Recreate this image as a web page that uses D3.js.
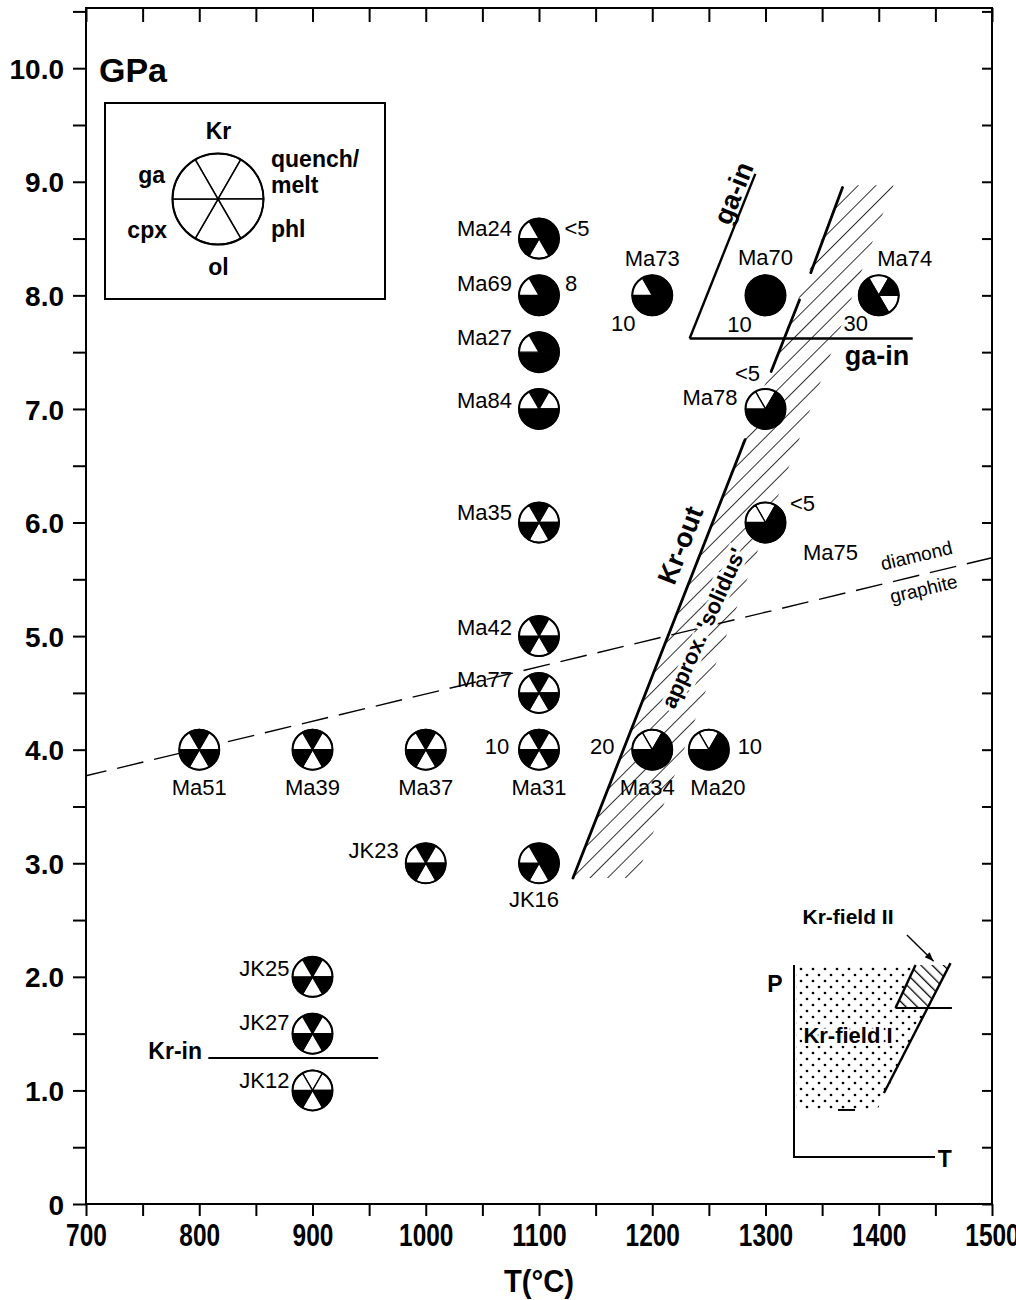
<!DOCTYPE html>
<html>
<head>
<meta charset="utf-8">
<script src="https://cdn.jsdelivr.net/npm/d3@7"></script>
<style>
  body { margin: 0; background: #fff; }
  svg text { font-family: "Liberation Sans", Arial, Helvetica, sans-serif; fill: #000; }
</style>
</head>
<body>
<svg id="chart" width="1016" height="1300"></svg>
<script>
// ---- Experimental runs (T in °C, P in GPa) ----
// Sector order, clockwise from the top: Kr, quench/melt, phl, ol, cpx, ga (1 = phase present)
const phaseNames   = ['Kr', 'quench/melt', 'phl', 'ol', 'cpx', 'ga'];
const samples      = ['Ma24','Ma69','Ma27','Ma84','Ma35','Ma42','Ma77','Ma31','Ma51','Ma39','Ma37','Ma34','Ma20','JK23','JK16','JK25','JK27','JK12','Ma73','Ma70','Ma74','Ma78','Ma75'];
const temperatures = [1100, 1100, 1100, 1100, 1100, 1100, 1100, 1100, 800, 900, 1000, 1200, 1250, 1000, 1100, 900, 900, 900, 1200, 1300, 1400, 1300, 1300];
const pressures    = [8.5, 8.0, 7.5, 7.0, 6.0, 5.0, 4.5, 4.0, 4.0, 4.0, 4.0, 4.0, 4.0, 3.0, 3.0, 2.0, 1.5, 1.0, 8.0, 8.0, 8.0, 7.0, 6.0];
const assemblages  = [
  [1,1,1,0,1,0], // Ma24
  [1,1,1,1,1,0], // Ma69
  [1,1,1,1,1,0], // Ma27
  [1,0,1,1,1,0], // Ma84
  [1,0,1,0,1,0], // Ma35
  [1,0,1,0,1,0], // Ma42
  [1,0,1,0,1,0], // Ma77
  [1,0,1,0,1,0], // Ma31
  [1,0,1,0,1,0], // Ma51
  [1,0,1,0,1,0], // Ma39
  [1,0,1,0,1,0], // Ma37
  [0,1,1,1,1,0], // Ma34
  [0,1,1,1,1,0], // Ma20
  [1,0,1,0,1,0], // JK23
  [1,1,1,0,1,0], // JK16
  [1,0,1,0,1,0], // JK25
  [1,0,1,0,1,0], // JK27
  [0,0,1,0,1,0], // JK12
  [1,1,1,1,1,0], // Ma73
  [1,1,1,1,1,1], // Ma70
  [0,1,0,1,1,1], // Ma74
  [0,1,1,1,1,0], // Ma78
  [0,1,1,1,1,0]  // Ma75
];
const meltPercent  = ['<5','8','','','','','','10','','','','20','10','','','','','','10','10','30','<5','<5'];

// ---- Phase boundaries (T °C, P GPa) ----
const krOutSegments = [
  [[1130, 2.87], [1282, 6.73]],
  [[1305, 7.33], [1330, 7.96]],
  [[1340, 8.20], [1368, 8.95]]
];
const solidusBand   = [[1130, 2.87], [1368, 8.97], [1413, 8.97], [1186, 2.87]];
const gaInSlope     = [[1233, 7.62], [1291, 9.07]];
const gaInFlat      = [[1233, 7.62], [1430, 7.62]];
const krInLine      = [[808, 1.285], [958, 1.285]];
const diamondGraphite = [[700, 3.77], [1500, 5.69]];

// ---- Axis ticks ----
const xTicks = d3.range(700, 1501, 50);
const yTicks = d3.range(0, 10.51, 0.5);

// ---- Label placement around each symbol (pixel offsets) ----
const nameOffset = {
  Ma24:[-27,-10,'end'], Ma69:[-27,-12,'end'], Ma27:[-27,-15,'end'], Ma84:[-27,-9,'end'],
  Ma35:[-27,-10,'end'], Ma42:[-27,-9,'end'], Ma77:[-27,-14,'end'],
  Ma31:[0,37,'middle'], Ma51:[0,37,'middle'], Ma39:[0,37,'middle'], Ma37:[0,37,'middle'],
  Ma34:[-5,37,'middle'], Ma20:[9,37,'middle'], JK16:[-5,36,'middle'],
  JK23:[-27,-13,'end'], JK25:[-23,-9,'end'], JK27:[-23,-12,'end'], JK12:[-23,-10,'end'],
  Ma73:[0,-37,'middle'], Ma70:[0,-38,'middle'], Ma74:[26,-37,'middle'],
  Ma78:[-28,-12,'end'], Ma75:[65,30,'middle']
};
const noteOffset = {
  Ma24:[38,-10], Ma69:[32,-12], Ma31:[-42,-4], Ma34:[-50,-4], Ma20:[41,-4],
  Ma73:[-29,28], Ma70:[-26,29], Ma74:[-23,28], Ma78:[-18,-36], Ma75:[37,-19]
};

const svg = d3.select('#chart');
const x = d3.scaleLinear().domain([700, 1500]).range([86, 992]);
const y = d3.scaleLinear().domain([0, 10.53]).range([1204, 8]);
const [x0, x1] = x.range();
const [yb, yt] = y.range();
const line = d3.line().x(d => x(d[0])).y(d => y(d[1]));
const defs = svg.append('defs');

// hatch for the approximate solidus band
defs.append('pattern').attr('id', 'solidusHatch').attr('patternUnits', 'userSpaceOnUse')
  .attr('width', 12.5).attr('height', 12.5).attr('patternTransform', 'rotate(45)')
  .append('line').attr('x1', 0).attr('y1', 0).attr('x2', 0).attr('y2', 12.5)
  .attr('stroke', '#000').attr('stroke-width', 1.6);

// hatch and stipple for the schematic inset
defs.append('pattern').attr('id', 'fieldIIHatch').attr('patternUnits', 'userSpaceOnUse')
  .attr('width', 8).attr('height', 8).attr('patternTransform', 'rotate(-45)')
  .append('line').attr('x1', 0).attr('y1', 0).attr('x2', 0).attr('y2', 8)
  .attr('stroke', '#000').attr('stroke-width', 2.6);
const dots = defs.append('pattern').attr('id', 'fieldIDots').attr('patternUnits', 'userSpaceOnUse')
  .attr('width', 12).attr('height', 12);
dots.append('circle').attr('cx', 3).attr('cy', 3).attr('r', 1.35).attr('fill', '#000');
dots.append('circle').attr('cx', 9).attr('cy', 9).attr('r', 1.35).attr('fill', '#000');

// ---- Axes and frame ----
function styleAxis(g) {
  g.select('.domain').remove();
  g.selectAll('.tick line').attr('stroke', '#000').attr('stroke-width', 2);
}
// condensed bold numerals along the temperature axis
svg.append('g').attr('transform', `translate(0,${yb})`)
  .call(d3.axisBottom(x).tickValues(xTicks).tickSize(12).tickSizeOuter(0).tickPadding(6)
    .tickFormat(d => d % 100 === 0 ? d : ''))
  .call(styleAxis)
  .selectAll('text').filter(d => d % 100 === 0)
  .attr('font-size', 31).attr('font-weight', 'bold').attr('dy', '0.78em')
  .attr('textLength', d => String(d).length * 13.6).attr('lengthAdjust', 'spacingAndGlyphs');
svg.append('g').attr('transform', `translate(0,${yt})`)
  .call(d3.axisTop(x).tickValues(xTicks).tickSize(-14).tickSizeOuter(0).tickFormat(''))
  .call(styleAxis);
svg.append('g').attr('transform', `translate(${x0},0)`)
  .call(d3.axisLeft(y).tickValues(yTicks).tickSize(13).tickSizeOuter(0).tickPadding(9)
    .tickFormat(d => d % 1 === 0 ? (d === 0 ? '0' : d.toFixed(1)) : ''))
  .call(styleAxis)
  .selectAll('text').attr('font-size', 28).attr('font-weight', 'bold').attr('dy', '0.36em');
svg.append('g').attr('transform', `translate(${x1},0)`)
  .call(d3.axisRight(y).tickValues(yTicks).tickSize(-10).tickSizeOuter(0).tickFormat(''))
  .call(styleAxis);
svg.append('rect').attr('x', x0).attr('y', yt).attr('width', x1 - x0).attr('height', yb - yt)
  .attr('fill', 'none').attr('stroke', '#000').attr('stroke-width', 2);

svg.append('text').attr('x', (x0 + x1) / 2).attr('y', 1292)
  .attr('text-anchor', 'middle').attr('font-size', 31).attr('font-weight', 'bold')
  .attr('textLength', 70).attr('lengthAdjust', 'spacingAndGlyphs').text('T(°C)');
svg.append('text').attr('x', 99).attr('y', 82).attr('font-size', 34).attr('font-weight', 'bold').text('GPa');

// ---- Approximate solidus band ----
const plot = svg.append('g');
plot.append('path').attr('d', line(solidusBand) + 'Z').attr('fill', 'url(#solidusHatch)').attr('stroke', 'none');

// ---- diamond / graphite transition ----
plot.append('path').attr('d', line(diamondGraphite)).attr('fill', 'none')
  .attr('stroke', '#000').attr('stroke-width', 1.4).attr('stroke-dasharray', '27,11')
  .attr('stroke-dashoffset', 6);

// ---- Kr-out, ga-in, Kr-in ----
krOutSegments.forEach(seg => plot.append('path').attr('d', line(seg)).attr('fill', 'none')
  .attr('stroke', '#000').attr('stroke-width', 2.8).attr('stroke-linecap', 'round'));
[gaInSlope, gaInFlat].forEach(seg => plot.append('path').attr('d', line(seg)).attr('fill', 'none')
  .attr('stroke', '#000').attr('stroke-width', 2.4));
plot.append('path').attr('d', line(krInLine)).attr('fill', 'none').attr('stroke', '#000').attr('stroke-width', 2);

function angleOf(seg) {
  const dx = x(seg[1][0]) - x(seg[0][0]);
  const dy = y(seg[1][1]) - y(seg[0][1]);
  return Math.atan2(dy, dx) * 180 / Math.PI;
}
const krOutAngle = angleOf([krOutSegments[0][0], krOutSegments[2][1]]);
const gaAngle = angleOf(gaInSlope);

plot.append('text').attr('transform', `translate(680,545) rotate(${krOutAngle})`)
  .attr('text-anchor', 'middle').attr('dy', '0.36em').attr('font-size', 27).attr('font-weight', 'bold')
  .text('Kr-out');
plot.append('text').attr('transform', `translate(703,628) rotate(${krOutAngle + 3})`)
  .attr('text-anchor', 'middle').attr('dy', '0.36em').attr('font-size', 22).attr('font-weight', 'bold')
  .attr('stroke', '#fff').attr('stroke-width', 7).attr('paint-order', 'stroke')
  .text("approx. 'solidus'");
plot.append('text').attr('transform', `translate(733,193) rotate(${gaAngle})`)
  .attr('text-anchor', 'middle').attr('dy', '0.36em').attr('font-size', 27).attr('font-weight', 'bold')
  .text('ga-in');
plot.append('text').attr('x', 877).attr('y', 355).attr('text-anchor', 'middle').attr('dy', '0.36em')
  .attr('font-size', 27).attr('font-weight', 'bold').text('ga-in');
plot.append('text').attr('x', 202).attr('y', 1051).attr('text-anchor', 'end').attr('dy', '0.36em')
  .attr('font-size', 23).attr('font-weight', 'bold').text('Kr-in');

const dgAngle = angleOf(diamondGraphite);
plot.append('text').attr('transform', `translate(918,562) rotate(${dgAngle})`)
  .attr('text-anchor', 'middle').attr('font-size', 19).text('diamond');
plot.append('text').attr('transform', `translate(922,582) rotate(${dgAngle})`)
  .attr('text-anchor', 'middle').attr('dy', '0.72em').attr('font-size', 19).text('graphite');

// ---- Pie symbols ----
const arcGen = d3.arc().innerRadius(0);
function drawPie(g, r, present, sectorWidth, rimWidth) {
  const sectors = d3.range(6).map(i => ({
    startAngle: (i * 60 - 30) * Math.PI / 180,
    endAngle: (i * 60 + 30) * Math.PI / 180,
    on: present[i]
  }));
  g.selectAll('path.sector').data(sectors).join('path').attr('class', 'sector')
    .attr('d', d => arcGen.outerRadius(r)(d))
    .attr('fill', d => d.on ? '#000' : '#fff')
    .attr('stroke', '#000').attr('stroke-width', sectorWidth).attr('stroke-linejoin', 'round');
  g.append('circle').attr('r', r).attr('fill', 'none').attr('stroke', '#000').attr('stroke-width', rimWidth);
}

const runs = samples.map((s, i) => ({
  name: s, T: temperatures[i], P: pressures[i], phases: assemblages[i], note: meltPercent[i]
}));
const symR = 20;
const sym = svg.append('g').selectAll('g.run').data(runs).join('g').attr('class', 'run')
  .attr('transform', d => `translate(${x(d.T)},${y(d.P)})`);
sym.each(function (d) { drawPie(d3.select(this), symR, d.phases, 1.3, 2); });
sym.append('text')
  .attr('x', d => nameOffset[d.name][0]).attr('y', d => nameOffset[d.name][1])
  .attr('text-anchor', d => nameOffset[d.name][2]).attr('dy', '0.36em')
  .attr('font-size', 22).text(d => d.name);
sym.filter(d => d.note).append('text')
  .attr('x', d => noteOffset[d.name][0]).attr('y', d => noteOffset[d.name][1])
  .attr('text-anchor', 'middle').attr('dy', '0.36em').attr('font-size', 22).text(d => d.note);

// ---- Legend ----
const leg = svg.append('g');
leg.append('rect').attr('x', 105).attr('y', 103).attr('width', 280).attr('height', 196)
  .attr('fill', '#fff').attr('stroke', '#000').attr('stroke-width', 2);
drawPie(leg.append('g').attr('transform', 'translate(218,199)'), 45.5, [0,0,0,0,0,0], 1.5, 2);
const legendLabels = [
  { t: 'Kr',      x: 218.5, y: 131, a: 'middle' },
  { t: 'quench/', x: 271,   y: 159, a: 'start' },
  { t: 'melt',    x: 271,   y: 185, a: 'start' },
  { t: 'phl',     x: 271,   y: 229, a: 'start' },
  { t: 'ol',      x: 218.5, y: 267, a: 'middle' },
  { t: 'cpx',     x: 167,   y: 230, a: 'end' },
  { t: 'ga',      x: 165,   y: 175, a: 'end' }
];
leg.selectAll('text.lab').data(legendLabels).join('text').attr('class', 'lab')
  .attr('x', d => d.x).attr('y', d => d.y).attr('text-anchor', d => d.a).attr('dy', '0.36em')
  .attr('font-size', 23).attr('font-weight', 'bold').text(d => d.t);

// ---- Schematic inset: Kr stability fields in P–T space ----
const ix = d3.scaleLinear().domain([0, 1]).range([794, 935]);
const iy = d3.scaleLinear().domain([0, 1]).range([1157, 965]);
const ipt = p => [ix(p[0]), iy(p[1])];
const iLine = d3.line().x(d => ix(d[0])).y(d => iy(d[1]));
const inset = svg.append('g');
const fieldI  = [[0.015, 1], [0.862, 1], [0.72, 0.776], [0.95, 0.776], [0.589, 0.245], [0.015, 0.245]];
const fieldII = [[0.862, 1], [1.1, 1], [0.95, 0.776], [0.72, 0.776]];
inset.append('path').attr('d', iLine(fieldI) + 'Z').attr('fill', 'url(#fieldIDots)');
inset.append('path').attr('d', iLine(fieldII) + 'Z').attr('fill', 'url(#fieldIIHatch)');
inset.append('path').attr('d', iLine([[0, 1], [0, 0], [1, 0]])).attr('fill', 'none')
  .attr('stroke', '#000').attr('stroke-width', 2);
inset.append('path').attr('d', iLine([[1.11, 1.01], [0.638, 0.333]])).attr('fill', 'none')
  .attr('stroke', '#000').attr('stroke-width', 2.4);
inset.append('path').attr('d', iLine([[0.72, 0.776], [0.862, 1]])).attr('fill', 'none')
  .attr('stroke', '#000').attr('stroke-width', 2.4);
inset.append('path').attr('d', iLine([[0.72, 0.776], [1.12, 0.776]])).attr('fill', 'none')
  .attr('stroke', '#000').attr('stroke-width', 1.8);
inset.append('path').attr('d', iLine([[0.312, 0.245], [0.433, 0.245]])).attr('fill', 'none')
  .attr('stroke', '#000').attr('stroke-width', 2);
inset.append('text').attr('x', ix(0.383)).attr('y', iy(0.635)).attr('text-anchor', 'middle')
  .attr('dy', '0.36em').attr('font-size', 22).attr('font-weight', 'bold')
  .attr('stroke', '#fff').attr('stroke-width', 5).attr('paint-order', 'stroke').text('Kr-field I');
inset.append('text').attr('x', ix(0.383)).attr('y', iy(1.253)).attr('text-anchor', 'middle')
  .attr('dy', '0.36em').attr('font-size', 21).attr('font-weight', 'bold').text('Kr-field II');
const a0 = ipt([0.801, 1.156]), a1 = ipt([0.99, 1.02]);
inset.append('line').attr('x1', a0[0]).attr('y1', a0[1]).attr('x2', a1[0]).attr('y2', a1[1])
  .attr('stroke', '#000').attr('stroke-width', 1.4);
const ang = Math.atan2(a1[1] - a0[1], a1[0] - a0[0]);
const head = [[0, 0], [-9, -3.5], [-9, 3.5]].map(([u, v]) => [
  a1[0] + u * Math.cos(ang) - v * Math.sin(ang),
  a1[1] + u * Math.sin(ang) + v * Math.cos(ang)
]);
inset.append('path').attr('d', d3.line()(head) + 'Z').attr('fill', '#000');
inset.append('text').attr('x', ix(-0.135)).attr('y', iy(0.9)).attr('text-anchor', 'middle')
  .attr('dy', '0.36em').attr('font-size', 23).attr('font-weight', 'bold').text('P');
inset.append('text').attr('x', ix(1.07)).attr('y', iy(-0.01)).attr('text-anchor', 'middle')
  .attr('dy', '0.36em').attr('font-size', 23).attr('font-weight', 'bold').text('T');
</script>
</body>
</html>
